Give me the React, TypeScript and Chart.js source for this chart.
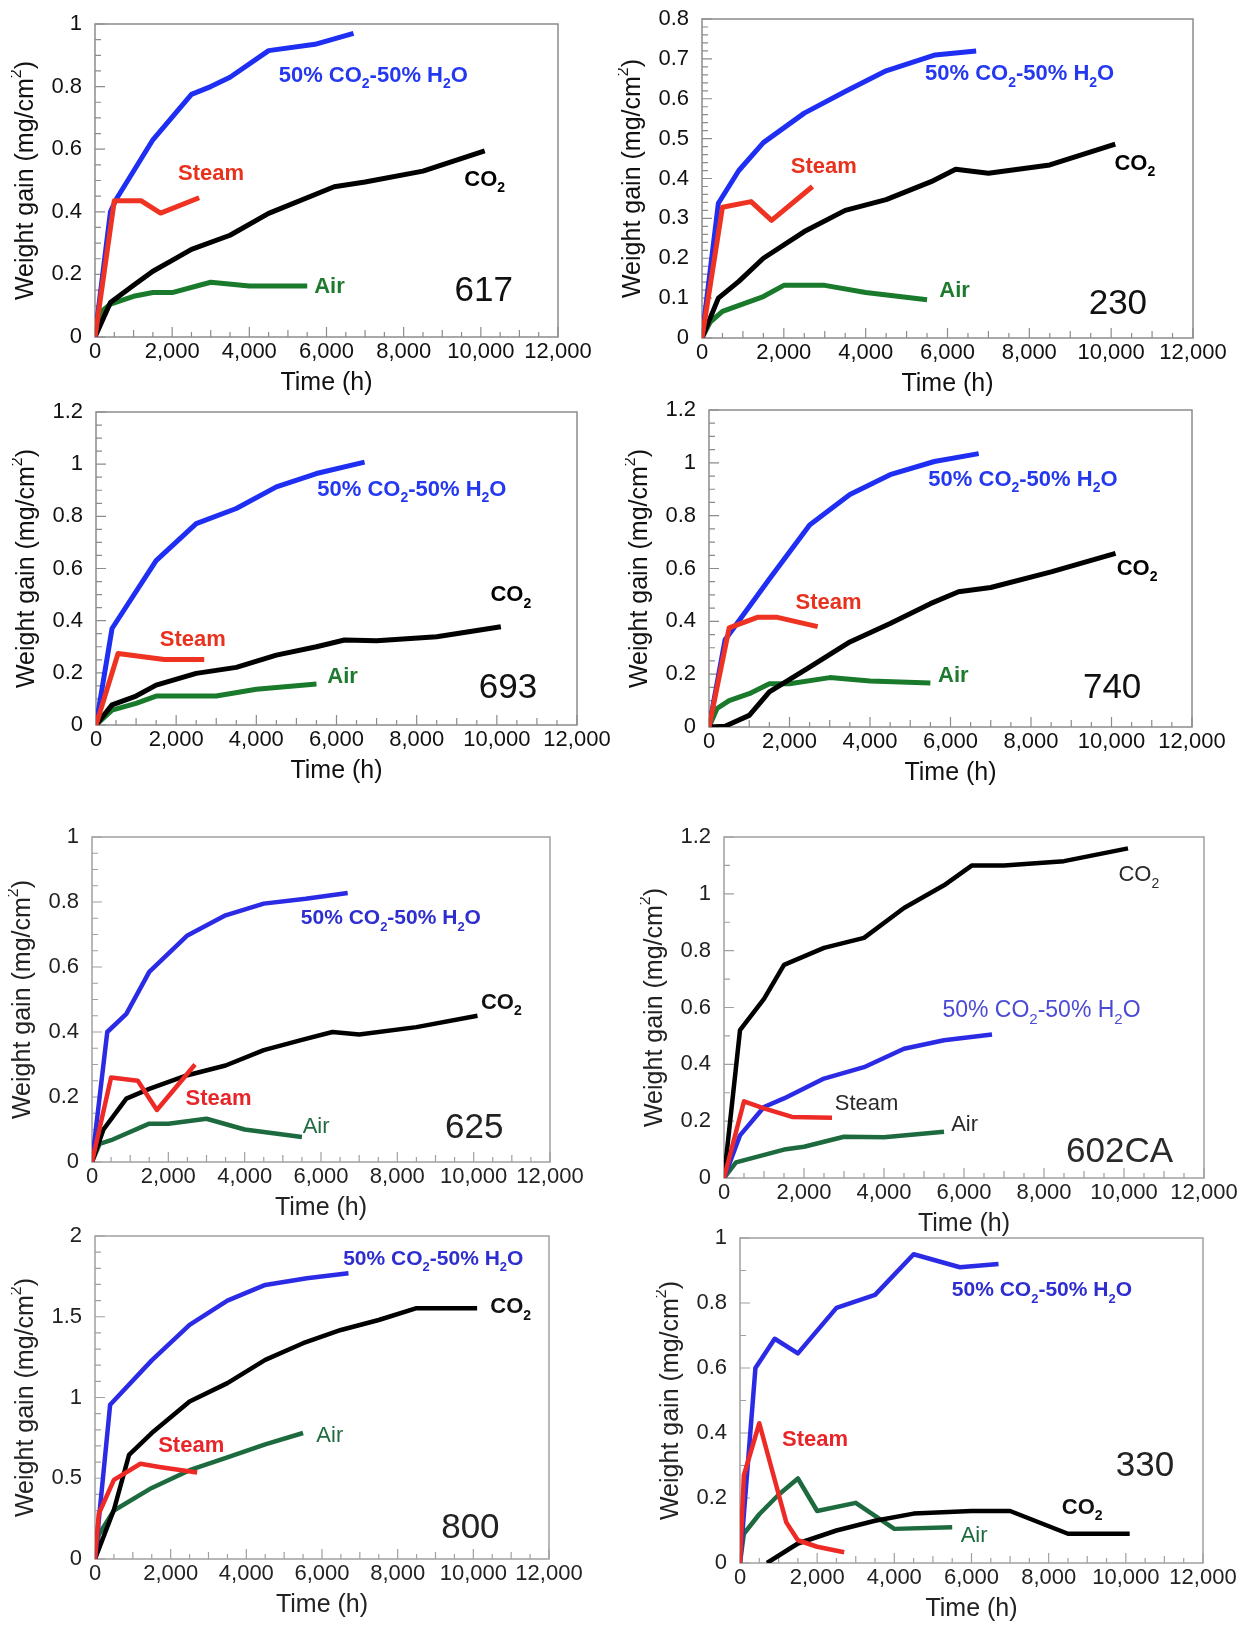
import React, { useEffect, useRef } from "react";
import { Chart, registerables } from "chart.js";

Chart.register(...registerables);

const FONT = "'Liberation Sans', Arial, Helvetica, sans-serif";

// ---------- shared axis values ----------
const TIME_MIN = 0;
const TIME_MAX = 12000;
const TIME_STEP = 2000;
const TIME_MINOR = 500;
const X_TITLE = "Time (h)";
const Y_TITLE = "Weight gain (mg/cm^2)";

type Pt = [number, number];
type Label = { text: string; x: number; y: number; kind: "mix" | "steam" | "co2" | "air" | "num" };

// ---------- 617 ----------
const mix617: Pt[] = [[0, 0], [400, 0.4], [550, 0.44], [1500, 0.63], [2500, 0.775], [3000, 0.8], [3500, 0.83], [4500, 0.915], [5700, 0.935], [6700, 0.97]];
const steam617: Pt[] = [[0, 0], [500, 0.435], [1200, 0.435], [1700, 0.396], [2700, 0.445]];
const co2_617: Pt[] = [[0, 0], [400, 0.11], [1000, 0.165], [1500, 0.21], [2000, 0.245], [2500, 0.28], [3500, 0.325], [4500, 0.395], [6200, 0.48], [7000, 0.495], [8500, 0.53], [10100, 0.595]];
const air617: Pt[] = [[0, 0], [200, 0.085], [400, 0.105], [1000, 0.13], [1500, 0.142], [2000, 0.142], [3000, 0.175], [4000, 0.163], [5500, 0.163]];
const labels617: Label[] = [
  { text: "50% CO_2-50% H_2O", x: 4760, y: 0.835, kind: "mix" },
  { text: "Steam", x: 2150, y: 0.522, kind: "steam" },
  { text: "CO_2", x: 9570, y: 0.503, kind: "co2" },
  { text: "Air", x: 5680, y: 0.16, kind: "air" },
  { text: "617", x: 9320, y: 0.146, kind: "num" },
];

// ---------- 230 ----------
const mix230: Pt[] = [[0, 0], [400, 0.338], [900, 0.42], [1500, 0.49], [2500, 0.564], [3500, 0.618], [4500, 0.67], [5700, 0.71], [6700, 0.72]];
const steam230: Pt[] = [[0, 0], [500, 0.328], [1200, 0.342], [1700, 0.295], [2700, 0.38]];
const co2_230: Pt[] = [[0, 0], [400, 0.1], [900, 0.142], [1500, 0.2], [2500, 0.267], [3500, 0.32], [4500, 0.347], [5600, 0.392], [6200, 0.423], [7000, 0.413], [8500, 0.434], [10100, 0.486]];
const air230: Pt[] = [[0, 0], [200, 0.04], [500, 0.067], [1500, 0.104], [2000, 0.132], [3000, 0.132], [4000, 0.114], [5500, 0.096]];
const labels230: Label[] = [
  { text: "50% CO_2-50% H_2O", x: 5450, y: 0.662, kind: "mix" },
  { text: "Steam", x: 2170, y: 0.428, kind: "steam" },
  { text: "CO_2", x: 10080, y: 0.437, kind: "co2" },
  { text: "Air", x: 5800, y: 0.119, kind: "air" },
  { text: "230", x: 9450, y: 0.0835, kind: "num" },
];

// ---------- 693 ----------
const mix693: Pt[] = [[0, 0], [400, 0.37], [1500, 0.63], [2500, 0.772], [3500, 0.83], [4500, 0.913], [5500, 0.964], [6700, 1.008]];
const steam693: Pt[] = [[0, 0], [550, 0.274], [1700, 0.251], [2700, 0.251]];
const co2_693: Pt[] = [[0, 0], [400, 0.077], [1000, 0.111], [1500, 0.153], [2500, 0.198], [3500, 0.221], [4500, 0.268], [5500, 0.3], [6200, 0.326], [7000, 0.323], [8500, 0.338], [10100, 0.377]];
const air693: Pt[] = [[0, 0], [400, 0.057], [1000, 0.083], [1500, 0.111], [3000, 0.111], [4000, 0.137], [5500, 0.157]];
const labels693: Label[] = [
  { text: "50% CO_2-50% H_2O", x: 5520, y: 0.903, kind: "mix" },
  { text: "Steam", x: 1590, y: 0.328, kind: "steam" },
  { text: "CO_2", x: 9840, y: 0.498, kind: "co2" },
  { text: "Air", x: 5770, y: 0.183, kind: "air" },
  { text: "693", x: 9550, y: 0.14, kind: "num" },
];

// ---------- 740 ----------
const mix740: Pt[] = [[0, 0], [400, 0.33], [1500, 0.56], [2500, 0.765], [3500, 0.88], [4500, 0.955], [5600, 1.005], [6700, 1.035]];
const steam740: Pt[] = [[0, 0], [500, 0.375], [1200, 0.415], [1700, 0.415], [2700, 0.38]];
const co2_740: Pt[] = [[0, 0], [400, 0.003], [1000, 0.044], [1500, 0.133], [2500, 0.227], [3500, 0.322], [4500, 0.392], [5500, 0.467], [6200, 0.512], [7000, 0.528], [8500, 0.587], [10100, 0.657]];
const air740: Pt[] = [[0, 0], [200, 0.07], [500, 0.1], [1000, 0.126], [1500, 0.164], [2000, 0.164], [3000, 0.187], [4000, 0.174], [5500, 0.167]];
const labels740: Label[] = [
  { text: "50% CO_2-50% H_2O", x: 5450, y: 0.937, kind: "mix" },
  { text: "Steam", x: 2150, y: 0.47, kind: "steam" },
  { text: "CO_2", x: 10130, y: 0.6, kind: "co2" },
  { text: "Air", x: 5690, y: 0.192, kind: "air" },
  { text: "740", x: 9290, y: 0.145, kind: "num" },
];

// ---------- 625 ----------
const mix625: Pt[] = [[0, 0], [400, 0.4], [900, 0.456], [1500, 0.585], [2500, 0.697], [3500, 0.759], [4500, 0.795], [5600, 0.81], [6700, 0.828]];
const steam625: Pt[] = [[0, 0], [500, 0.26], [1200, 0.25], [1700, 0.16], [2700, 0.3]];
const co2_625: Pt[] = [[0, 0], [300, 0.1], [900, 0.195], [1500, 0.225], [2500, 0.267], [3500, 0.297], [4500, 0.344], [5500, 0.376], [6300, 0.4], [7000, 0.392], [8500, 0.415], [10100, 0.45]];
const air625: Pt[] = [[0, 0], [200, 0.056], [500, 0.067], [1500, 0.118], [2000, 0.118], [3000, 0.133], [4000, 0.1], [5500, 0.077]];
const labels625: Label[] = [
  { text: "50% CO_2-50% H_2O", x: 5470, y: 0.749, kind: "mix" },
  { text: "CO_2", x: 10190, y: 0.49, kind: "co2" },
  { text: "Steam", x: 2450, y: 0.195, kind: "steam" },
  { text: "Air", x: 5520, y: 0.108, kind: "air" },
  { text: "625", x: 9250, y: 0.103, kind: "num" },
];

// ---------- 602CA ----------
const co2_602: Pt[] = [[0, 0], [400, 0.52], [1000, 0.63], [1500, 0.75], [2500, 0.81], [3500, 0.845], [4500, 0.95], [5500, 1.03], [6200, 1.1], [7000, 1.1], [8500, 1.115], [10100, 1.16]];
const mix602: Pt[] = [[0, 0], [400, 0.15], [1000, 0.25], [1500, 0.28], [2500, 0.35], [3500, 0.39], [4500, 0.455], [5500, 0.485], [6700, 0.505]];
const steam602: Pt[] = [[0, 0], [500, 0.27], [1000, 0.245], [1700, 0.215], [2700, 0.212]];
const air602: Pt[] = [[0, 0], [300, 0.055], [1500, 0.1], [2000, 0.11], [3000, 0.145], [4000, 0.143], [5500, 0.163]];
const labels602: Label[] = [
  { text: "CO_2", x: 9860, y: 1.065, kind: "co2" },
  { text: "50% CO_2-50% H_2O", x: 5460, y: 0.589, kind: "mix" },
  { text: "Steam", x: 2770, y: 0.261, kind: "steam" },
  { text: "Air", x: 5680, y: 0.187, kind: "air" },
  { text: "602CA", x: 8550, y: 0.09, kind: "num" },
];

// ---------- 800 ----------
const mix800: Pt[] = [[0, 0], [400, 0.955], [1500, 1.23], [2500, 1.45], [3500, 1.6], [4500, 1.697], [5600, 1.738], [6700, 1.769]];
const co2_800: Pt[] = [[0, 0], [500, 0.305], [900, 0.645], [1500, 0.78], [2500, 0.975], [3500, 1.089], [4500, 1.233], [5500, 1.336], [6500, 1.418], [7500, 1.48], [8500, 1.553], [10100, 1.553]];
const steam800: Pt[] = [[0, 0], [100, 0.28], [500, 0.49], [1200, 0.59], [1700, 0.57], [2700, 0.535]];
const air800: Pt[] = [[0, 0], [100, 0.15], [500, 0.3], [1500, 0.44], [2500, 0.55], [3500, 0.63], [4500, 0.71], [5500, 0.78]];
const labels800: Label[] = [
  { text: "50% CO_2-50% H_2O", x: 6560, y: 1.856, kind: "mix" },
  { text: "CO_2", x: 10450, y: 1.559, kind: "co2" },
  { text: "Steam", x: 1670, y: 0.697, kind: "steam" },
  { text: "Air", x: 5850, y: 0.759, kind: "air" },
  { text: "800", x: 9150, y: 0.192, kind: "num" },
];

// ---------- 330 ----------
const mix330: Pt[] = [[0, 0], [400, 0.6], [900, 0.69], [1500, 0.645], [2500, 0.785], [3500, 0.825], [4500, 0.95], [5700, 0.91], [6700, 0.92]];
const steam330: Pt[] = [[0, 0], [100, 0.27], [500, 0.43], [1200, 0.125], [1500, 0.07], [2000, 0.05], [2700, 0.033]];
const air330: Pt[] = [[0, 0], [100, 0.09], [500, 0.15], [1000, 0.21], [1500, 0.26], [2000, 0.16], [3000, 0.185], [4000, 0.105], [5500, 0.11]];
const co2_330: Pt[] = [[700, 0], [1500, 0.06], [2500, 0.1], [3500, 0.13], [4500, 0.152], [6000, 0.16], [7000, 0.16], [8500, 0.09], [10100, 0.09]];
const labels330: Label[] = [
  { text: "50% CO_2-50% H_2O", x: 5490, y: 0.838, kind: "mix" },
  { text: "Steam", x: 1090, y: 0.38, kind: "steam" },
  { text: "330", x: 9740, y: 0.297, kind: "num" },
  { text: "CO_2", x: 8340, y: 0.17, kind: "co2" },
  { text: "Air", x: 5720, y: 0.082, kind: "air" },
];

// ---------- styles ----------
type Theme = {
  line: Record<string, string>;
  text: Record<string, string>;
  bold: Record<string, boolean>;
  size: Record<string, number>;
  frame: string;
  width: number;
  tickColor: string;
};
const THEMES: Record<string, Theme> = {
  A: {
    line: { mix: "#1e2ef2", steam: "#ee3322", co2: "#000000", air: "#197a2c" },
    text: { mix: "#2438f0", steam: "#e8321e", co2: "#000000", air: "#1e7a2e", num: "#111111" },
    bold: { mix: true, steam: true, co2: true, air: true, num: false },
    size: { mix: 22, steam: 22, co2: 22, air: 22, num: 35 },
    frame: "#8c8c8c",
    width: 5,
    tickColor: "#111111",
  },
  B: {
    line: { mix: "#2b2be6", steam: "#ee2a26", co2: "#000000", air: "#1d6a3e" },
    text: { mix: "#2e2ed0", steam: "#e8262a", co2: "#111111", air: "#1f6b3f", num: "#222222" },
    bold: { mix: true, steam: true, co2: true, air: false, num: false },
    size: { mix: 21, steam: 22, co2: 22, air: 22, num: 35 },
    frame: "#a0a0a0",
    width: 4.5,
    tickColor: "#222222",
  },
  C: {
    line: { mix: "#2b2be6", steam: "#ee2a26", co2: "#000000", air: "#1d6a3e" },
    text: { mix: "#4a4ad6", steam: "#2a2a2a", co2: "#2a2a2a", air: "#2a2a2a", num: "#2a2a2a" },
    bold: { mix: false, steam: false, co2: false, air: false, num: false },
    size: { mix: 23, steam: 22, co2: 22, air: 22, num: 35 },
    frame: "#a0a0a0",
    width: 4.5,
    tickColor: "#222222",
  },
};

type PanelCfg = {
  box: [number, number, number, number]; // plot area left, top, right, bottom (page px)
  ymax: number;
  ystep: number;
  yminor: number;
  theme: string;
  mix: Pt[];
  steam: Pt[];
  co2: Pt[];
  air: Pt[];
  labels: Label[];
};

const PANELS: PanelCfg[] = [
  { box: [95, 24, 558, 337], ymax: 1, ystep: 0.2, yminor: 0.05, theme: "A", mix: mix617, steam: steam617, co2: co2_617, air: air617, labels: labels617 },
  { box: [702, 19, 1193, 338], ymax: 0.8, ystep: 0.1, yminor: 0.02, theme: "A", mix: mix230, steam: steam230, co2: co2_230, air: air230, labels: labels230 },
  { box: [96, 412, 577, 725], ymax: 1.2, ystep: 0.2, yminor: 0.05, theme: "A", mix: mix693, steam: steam693, co2: co2_693, air: air693, labels: labels693 },
  { box: [709, 410, 1192, 727], ymax: 1.2, ystep: 0.2, yminor: 0.05, theme: "A", mix: mix740, steam: steam740, co2: co2_740, air: air740, labels: labels740 },
  { box: [92, 837, 550, 1162], ymax: 1, ystep: 0.2, yminor: 0.05, theme: "B", mix: mix625, steam: steam625, co2: co2_625, air: air625, labels: labels625 },
  { box: [724, 837, 1204, 1178], ymax: 1.2, ystep: 0.2, yminor: 0.1, theme: "C", mix: mix602, steam: steam602, co2: co2_602, air: air602, labels: labels602 },
  { box: [95, 1236, 549, 1559], ymax: 2, ystep: 0.5, yminor: 0.1, theme: "B", mix: mix800, steam: steam800, co2: co2_800, air: air800, labels: labels800 },
  { box: [740, 1238, 1203, 1563], ymax: 1, ystep: 0.2, yminor: 0.1, theme: "B", mix: mix330, steam: steam330, co2: co2_330, air: air330, labels: labels330 },
];

const YW = 84; // y-axis box width
const PT = 16; // top padding
const PR = 36; // right padding
const XH = 61; // x-axis box height
const YTITLE_OFFSET = 69; // y title centre, left of plot area

// text with _d subscripts and ^d superscripts
function richParts(text: string) {
  return text.split(/([_^]\d)/).filter((p) => p.length > 0);
}
function richWidth(ctx: CanvasRenderingContext2D, text: string, size: number, w: string) {
  let total = 0;
  for (const p of richParts(text)) {
    if (p[0] === "_" || p[0] === "^") {
      ctx.font = `${w} ${Math.round(size * 0.64)}px ${FONT}`;
      total += ctx.measureText(p.slice(1)).width;
    } else {
      ctx.font = `${w} ${size}px ${FONT}`;
      total += ctx.measureText(p).width;
    }
  }
  return total;
}
function drawRich(ctx: CanvasRenderingContext2D, text: string, x: number, y: number, size: number, bold: boolean, color: string, center = false) {
  const w = bold ? "bold" : "normal";
  ctx.textBaseline = "middle";
  ctx.textAlign = "left";
  ctx.fillStyle = color;
  let cx = center ? x - richWidth(ctx, text, size, w) / 2 : x;
  for (const p of richParts(text)) {
    if (p[0] === "_" || p[0] === "^") {
      const s = p.slice(1);
      ctx.font = `${w} ${Math.round(size * 0.64)}px ${FONT}`;
      const dy = p[0] === "_" ? size * 0.4 : -size * 0.36;
      ctx.fillText(s, cx, y + dy);
      cx += ctx.measureText(s).width;
    } else {
      ctx.font = `${w} ${size}px ${FONT}`;
      ctx.fillText(p, cx, y);
      cx += ctx.measureText(p).width;
    }
  }
}

function Panel({ cfg }: { cfg: PanelCfg }) {
  const ref = useRef<HTMLCanvasElement>(null);
  const [L, T, R, B] = cfg.box;
  const width = YW + (R - L) + PR;
  const height = PT + (B - T) + XH;
  const theme = THEMES[cfg.theme];

  useEffect(() => {
    if (!ref.current) return;
    const framePlugin = {
      id: "frameTicks",
      beforeDatasetsDraw(chart: any) {
        const { ctx, chartArea, scales } = chart;
        const { left, right, top, bottom } = chartArea;
        ctx.save();
        ctx.strokeStyle = theme.frame;
        ctx.lineWidth = 1.5;
        ctx.strokeRect(left, top, right - left, bottom - top);
        ctx.lineWidth = 1.2;
        ctx.beginPath();
        for (let v = TIME_MIN; v <= TIME_MAX; v += TIME_MINOR) {
          const px = scales.x.getPixelForValue(v);
          const len = v % 2000 === 0 ? 10 : v % 1000 === 0 ? 7 : 5;
          ctx.moveTo(px, bottom);
          ctx.lineTo(px, bottom - len);
        }
        const n = Math.round(cfg.ymax / cfg.yminor);
        for (let i = 0; i <= n; i++) {
          const v = i * cfg.yminor;
          const r = v / cfg.ystep;
          const major = Math.abs(r - Math.round(r)) < 1e-6;
          const py = scales.y.getPixelForValue(v);
          ctx.moveTo(left, py);
          ctx.lineTo(left + (major ? 10 : 6), py);
        }
        ctx.stroke();
        // rotated y-axis title with a real superscript
        ctx.translate(left - YTITLE_OFFSET, (top + bottom) / 2);
        ctx.rotate(-Math.PI / 2);
        drawRich(ctx, Y_TITLE, 0, 0, 25, false, theme.tickColor, true);
        ctx.restore();
      },
    };
    const textPlugin = {
      id: "seriesText",
      afterDatasetsDraw(chart: any) {
        const { ctx, scales } = chart;
        ctx.save();
        for (const lb of cfg.labels) {
          const px = scales.x.getPixelForValue(lb.x);
          const py = scales.y.getPixelForValue(lb.y);
          drawRich(ctx, lb.text, px, py, theme.size[lb.kind], theme.bold[lb.kind], theme.text[lb.kind]);
        }
        ctx.restore();
      },
    };
    const ds = (pts: Pt[], kind: string, order: number) => ({
      data: pts.map(([x, y]) => ({ x, y })),
      borderColor: theme.line[kind],
      backgroundColor: theme.line[kind],
      borderWidth: theme.width,
      pointRadius: 0,
      tension: 0,
      fill: false,
      borderJoinStyle: "round" as const,
      borderCapStyle: "butt" as const,
      order,
    });
    const chart = new Chart(ref.current, {
      type: "line",
      data: {
        datasets: [
          ds(cfg.steam, "steam", 0),
          ds(cfg.mix, "mix", 1),
          ds(cfg.co2, "co2", 2),
          ds(cfg.air, "air", 3),
        ],
      },
      options: {
        responsive: false,
        animation: false,
        devicePixelRatio: 1,
        layout: { padding: { left: 0, top: PT, right: PR, bottom: 0 } },
        plugins: { legend: { display: false }, tooltip: { enabled: false } },
        scales: {
          x: {
            type: "linear",
            min: TIME_MIN,
            max: TIME_MAX,
            grid: { display: false, drawTicks: false },
            border: { display: false },
            ticks: {
              stepSize: TIME_STEP,
              padding: 2,
              color: theme.tickColor,
              font: { family: FONT, size: 22 },
              maxRotation: 0,
              autoSkip: false,
              callback: (v: any) => Number(v).toLocaleString("en-US"),
            },
            title: {
              display: true,
              text: X_TITLE,
              color: theme.tickColor,
              font: { family: FONT, size: 25 },
              padding: 0,
            },
            afterFit: (s: any) => {
              s.height = XH;
              s.paddingLeft = 0;
              s.paddingRight = 0;
            },
          },
          y: {
            type: "linear",
            min: 0,
            max: cfg.ymax,
            grid: { display: false, drawTicks: false },
            border: { display: false },
            ticks: {
              stepSize: cfg.ystep,
              padding: 13,
              color: theme.tickColor,
              font: { family: FONT, size: 22 },
              autoSkip: false,
              callback: (v: any) => String(Math.round(Number(v) * 1000) / 1000),
            },
            title: { display: false },
            afterFit: (s: any) => {
              s.width = YW;
              s.paddingTop = 0;
              s.paddingBottom = 0;
            },
          },
        },
      },
      plugins: [framePlugin, textPlugin],
    } as any);
    return () => chart.destroy();
  }, []);

  return (
    <canvas
      ref={ref}
      width={width}
      height={height}
      style={{ position: "absolute", left: L - YW, top: T - PT, width, height }}
    />
  );
}

export default function App() {
  return (
    <div
      style={{
        position: "absolute",
        left: 0,
        top: 0,
        width: 1247,
        height: 1625,
        overflow: "hidden",
        background: "#ffffff",
      }}
    >
      {PANELS.map((p, i) => (
        <Panel key={i} cfg={p} />
      ))}
    </div>
  );
}
